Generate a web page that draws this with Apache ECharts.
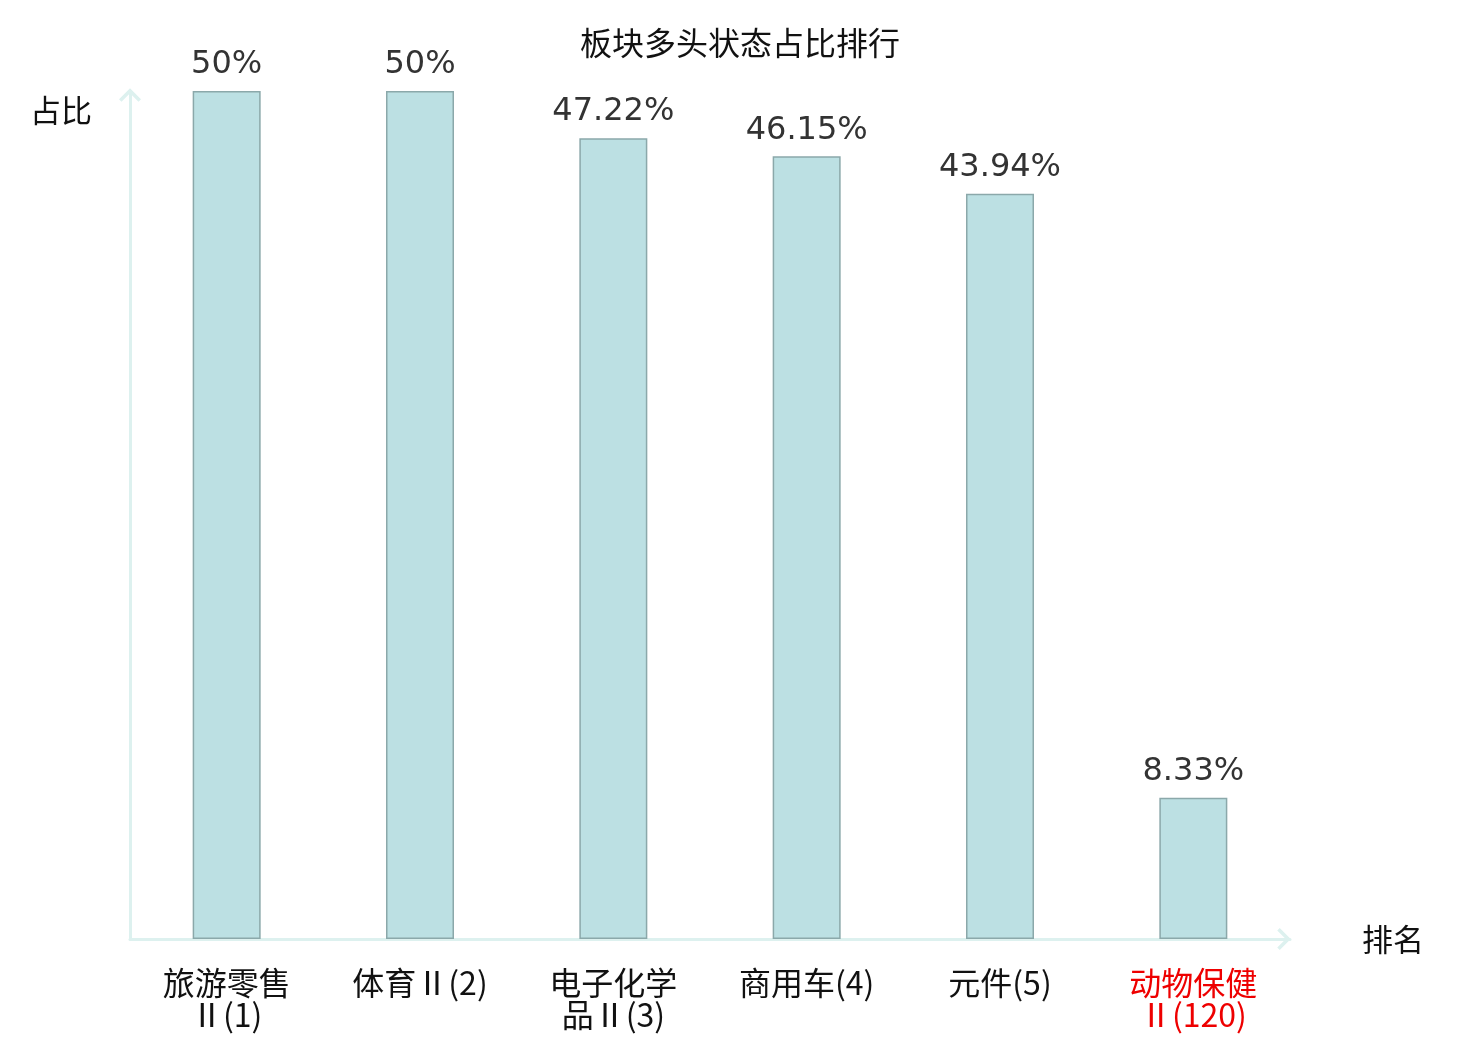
<!DOCTYPE html>
<html>
<head>
<meta charset="utf-8">
<script src="https://cdn.jsdelivr.net/npm/echarts@6/dist/echarts.min.js"></script>
<style>
  html, body { margin: 0; padding: 0; background: #fff; }
  #main { width: 1480px; height: 1040px; }
</style>
</head>
<body>
<div id="main"></div>
<script>
// 板块名称(排名)
var categories = ['旅游零售\nⅡ(1)', '体育Ⅱ(2)', '电子化学\n品Ⅱ(3)', '商用车(4)', '元件(5)', '动物保健\nⅡ(120)'];
// 多头状态占比 %
var ratios = [50, 50, 47.22, 46.15, 43.94, 8.33];
var ratioLabels = ['50%', '50%', '47.22%', '46.15%', '43.94%', '8.33%'];
// 标红的类别
var highlight = [5];

var cjk = '"Noto Sans CJK SC", "DejaVu Sans", sans-serif';
var axisColor = '#ddf1ef';
// 空心箭头
var chevron = 'path://M0,11 L11,0 L22,11 L19.5,13.5 L11,5 L2.5,13.5 Z';

var myChart = echarts.init(document.getElementById('main'));

var option = {
    title: {
        text: '板块多头状态占比排行',
        left: 'center',
        top: 22,
        textStyle: { fontFamily: cjk, fontSize: 32, fontWeight: 'normal', color: '#111' }
    },
    grid: { left: 130, right: 190, top: 91, bottom: 101 },
    xAxis: {
        type: 'category',
        data: categories.map(function (c, i) {
            return highlight.indexOf(i) >= 0 ? { value: c, textStyle: { color: '#ee0000' } } : c;
        }),
        name: '排名',
        nameLocation: 'end',
        nameGap: 72,
        nameTextStyle: { fontFamily: cjk, fontSize: 31, color: '#111', verticalAlign: 'middle', padding: [4, 0, 0, 0] },
        axisLine: {
            lineStyle: { color: axisColor, width: 3 },
            symbol: ['none', chevron],
            symbolSize: [22, 14],
            symbolOffset: [0, -6]
        },
        axisTick: { show: false },
        axisLabel: {
            interval: 0,
            margin: 28,
            fontFamily: cjk,
            fontSize: 32,
            lineHeight: 32,
            color: '#111'
        }
    },
    yAxis: {
        type: 'value',
        min: 0,
        max: 50,
        name: '占比',
        nameLocation: 'end',
        nameGap: -4,
        nameTextStyle: { fontFamily: cjk, fontSize: 31, color: '#111', align: 'right', verticalAlign: 'top', padding: [0, 38, 0, 0] },
        axisLine: {
            show: true,
            lineStyle: { color: axisColor, width: 3 },
            symbol: ['none', chevron],
            symbolSize: [22, 14],
            symbolOffset: [0, -4]
        },
        axisTick: { show: false },
        axisLabel: { show: false },
        splitLine: { show: false }
    },
    series: [
        {
            type: 'bar',
            data: ratios,
            barWidth: 68,
            itemStyle: { color: '#bce0e3', borderColor: '#8ba8aa', borderWidth: 1.5 },
            label: {
                show: true,
                position: 'top',
                distance: 10,
                fontFamily: '"DejaVu Sans", sans-serif',
                fontSize: 32,
                color: '#333',
                formatter: function (p) { return ratioLabels[p.dataIndex]; }
            }
        }
    ]
};

myChart.setOption(option);
</script>
</body>
</html>
